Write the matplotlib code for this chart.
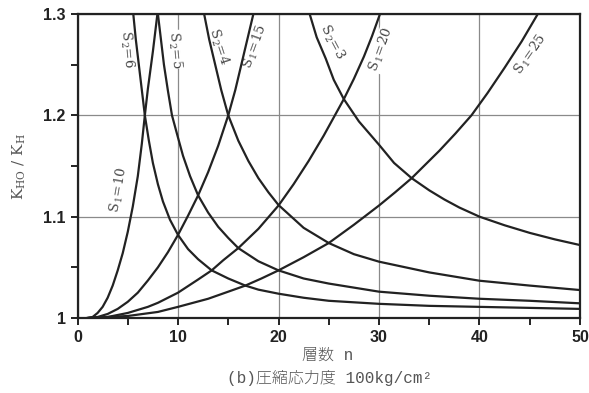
import matplotlib.pyplot as plt

plt.rcParams['mathtext.fontset'] = 'dejavuserif'

# K_HO / K_H against number of layers n, for each S1 (rising) and S2 (falling)
s1_10_n = [1, 1.5, 2, 2.5, 3, 3.5, 4, 4.5, 5, 5.5, 6, 6.4, 6.7, 7, 7.5, 7.95]
s1_10_k = [1.0, 1.001, 1.005, 1.011, 1.02, 1.032, 1.047, 1.064, 1.085, 1.11, 1.14,
           1.172, 1.2, 1.226, 1.263, 1.3]

s1_15_n = [1, 2, 3, 4, 5, 6, 7, 8, 9, 10, 11, 12, 13, 14, 15, 15.7, 16.3, 16.9, 17.5]
s1_15_k = [1.0, 1.001, 1.004, 1.009, 1.016, 1.025, 1.037, 1.05, 1.065, 1.082, 1.101,
           1.121, 1.144, 1.17, 1.2, 1.225, 1.25, 1.275, 1.3]

s1_20_n = [1, 3, 5, 7, 8, 10, 12, 13.35, 14.5, 16, 18, 20, 21.5, 23, 24.5, 26.5, 27.5,
           28.5, 29.3, 30.1]
s1_20_k = [1.0, 1.001, 1.005, 1.011, 1.015, 1.025, 1.038, 1.047, 1.057, 1.069, 1.088,
           1.111, 1.132, 1.155, 1.18, 1.216, 1.236, 1.258, 1.278, 1.3]

s1_25_n = [1, 5, 8, 10, 13, 15, 16.7, 18.3, 20, 22.5, 25, 27.5, 30, 31.6, 33.25, 36,
           37.6, 39.2, 40.8, 42.5, 44.2, 45.8]
s1_25_k = [1.0, 1.002, 1.006, 1.011, 1.019, 1.026, 1.032, 1.039, 1.047, 1.06, 1.074,
           1.092, 1.111, 1.124, 1.138, 1.165, 1.182, 1.2, 1.222, 1.247, 1.273, 1.3]

s2_6_n = [5.55, 5.8, 6.1, 6.4, 6.7, 7.1, 7.5, 8.0, 8.5, 9.2, 10, 11, 12, 13.35, 15,
          16.7, 18, 20, 22.5, 25, 30, 35, 40, 45, 50]
s2_6_k = [1.3, 1.275, 1.25, 1.225, 1.2, 1.175, 1.153, 1.132, 1.115, 1.097, 1.082, 1.068,
          1.058, 1.047, 1.039, 1.032, 1.028, 1.024, 1.02, 1.017, 1.014, 1.012, 1.011,
          1.01, 1.009]

s2_5_n = [8, 8.3, 8.6, 9, 9.4, 10, 10.5, 11.2, 12, 13, 14, 15, 16, 18, 20, 22.5, 25,
          27.5, 30, 35, 40, 45, 50]
s2_5_k = [1.3, 1.275, 1.25, 1.224, 1.2, 1.178, 1.16, 1.14, 1.121, 1.104, 1.09, 1.079,
          1.069, 1.056, 1.047, 1.039, 1.034, 1.03, 1.026, 1.022, 1.019, 1.017, 1.0145]

s2_4_n = [12.6, 13.1, 13.7, 14.3, 15, 16, 17, 18, 19, 20, 22.5, 25, 27.5, 30, 35, 40,
          45, 50]
s2_4_k = [1.3, 1.275, 1.25, 1.225, 1.2, 1.175, 1.155, 1.138, 1.124, 1.1115, 1.089, 1.074,
          1.063, 1.0556, 1.045, 1.0368, 1.032, 1.0276]

s2_3_n = [23.1, 23.8, 24.7, 25.5, 26.5, 28, 30, 31.5, 33.25, 35, 36.5, 38, 40, 42.5,
          45, 47.5, 50]
s2_3_k = [1.3, 1.277, 1.256, 1.235, 1.216, 1.194, 1.171, 1.153, 1.138, 1.126, 1.117,
          1.109, 1.1, 1.0915, 1.084, 1.0776, 1.072]

curves = [(s1_10_n, s1_10_k), (s1_15_n, s1_15_k), (s1_20_n, s1_20_k), (s1_25_n, s1_25_k),
          (s2_6_n, s2_6_k), (s2_5_n, s2_5_k), (s2_4_n, s2_4_k), (s2_3_n, s2_3_k)]

# curve labels: text, n, K, angle
labels = [
    (r'S$_{\,2}$=6', 4.9, 1.265, -85),
    (r'S$_{\,2}$=5', 9.7, 1.265, -85),
    (r'S$_{\,2}$=4', 14.0, 1.268, -72),
    (r'S$_{\,1}$=15', 17.7, 1.268, 70),
    (r'S$_{\,2}$=3', 25.3, 1.273, -62),
    (r'S$_{\,1}$=20', 30.2, 1.265, 70),
    (r'S$_{\,1}$=25', 45.1, 1.26, 55),
    (r'S$_{\,1}$=10', 4.1, 1.126, 80),
]

fig = plt.figure(figsize=(5.89, 3.93), dpi=100)
ax = fig.add_axes([0.1316, 0.1908, 0.8531, 0.7736])

for n, k in curves:
    ax.plot(n, k, color='#222222', lw=1.6, solid_joinstyle='round', zorder=3)

for txt, n, k, ang in labels:
    ax.text(n, k, txt, rotation=ang, ha='center', va='center', fontsize=9.5,
            color='#444444', family='DejaVu Serif', rotation_mode='anchor',
            bbox=dict(facecolor='white', edgecolor='none', pad=0.5), zorder=2)

ax.set_xlim(0, 50)
ax.set_ylim(1.0, 1.3)
ax.set_xticks([0, 10, 20, 30, 40, 50])
ax.set_xticks([5, 15, 25, 35, 45], minor=True)
ax.set_yticks([1.0, 1.1, 1.2, 1.3])
ax.set_yticks([1.05, 1.15, 1.25], minor=True)
ax.set_yticklabels(['1', '1.1', '1.2', '1.3'])
ax.grid(True, which='major', color='#8a8a8a', lw=0.9, zorder=1)
ax.tick_params(which='both', direction='out', length=5, width=1.4, color='#222222')
for lab in ax.get_xticklabels() + ax.get_yticklabels():
    lab.set_fontfamily('Liberation Sans')
    lab.set_fontweight('bold')
    lab.set_fontsize(11.5)
    lab.set_color('#222222')
for sp in ax.spines.values():
    sp.set_linewidth(1.6)
    sp.set_color('#222222')

ax.set_ylabel(r'K$_{\rm HO}$ / K$_{\rm H}$', family='DejaVu Serif', fontsize=11,
              color='#555555', labelpad=11)
jp = ['Liberation Mono', 'Noto Sans CJK JP']
fig.text(0.557, 0.097, '層数 n', ha='center', va='center', fontsize=11.5,
         family=jp, color='#555555', weight='light')
fig.text(0.56, 0.038, '(b)圧縮応力度 100kg/cm²', ha='center', va='center', fontsize=11.5,
         family=jp, color='#555555', weight='light')

fig.savefig('out.png', dpi=100)
